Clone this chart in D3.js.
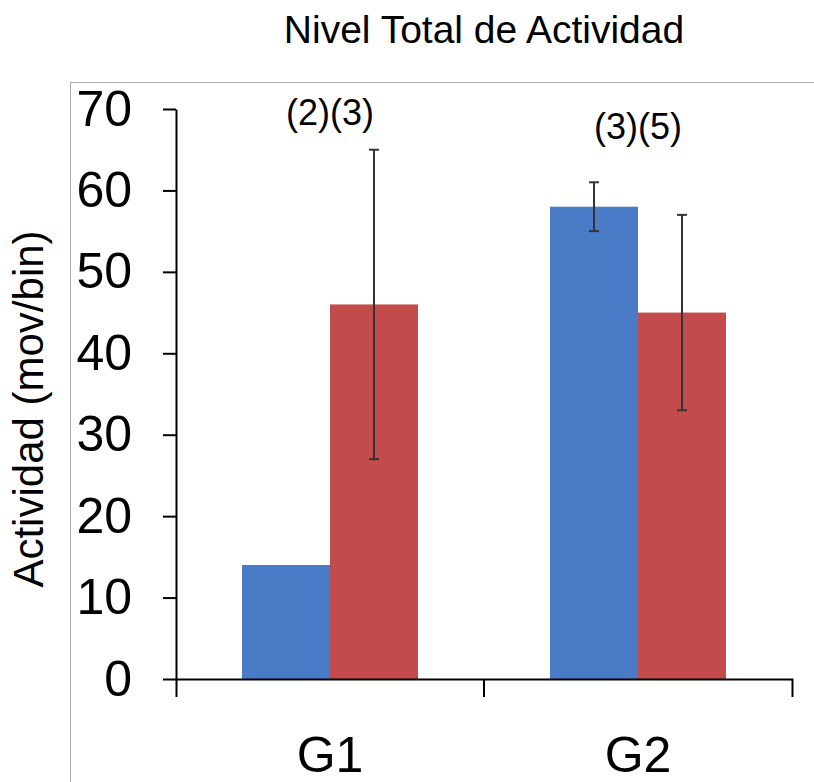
<!DOCTYPE html>
<html>
<head>
<meta charset="utf-8">
<script src="https://cdn.jsdelivr.net/npm/d3@7"></script>
<style>
  body { margin: 0; background: #fff; }
  text { font-family: "Liberation Sans", Arial, sans-serif; fill: #000; }
</style>
</head>
<body>
<div id="chart"></div>
<script>
/** data **/
const groups = ["G1", "G2"];
const seriesNames = ["azul", "rojo"];
const blueValues = [14, 58];
const redValues = [46, 45];
const blueErrors = [0, 3];
const redErrors = [19, 12];
const groupNotes = ["(2)(3)", "(3)(5)"];
const yTicks = [0, 10, 20, 30, 40, 50, 60, 70];

const width = 814;
const height = 782;
const colors = { azul: "#4a7bc6", rojo: "#c44b4b" };

const svg = d3.select("#chart")
    .append("svg")
    .attr("width", width)
    .attr("height", height);

// light frame around the plot
svg.append("path")
    .attr("d", `M70.5,${height} L70.5,82.5 L${width},82.5`)
    .attr("fill", "none")
    .attr("stroke", "#aaa")
    .attr("stroke-width", 1);

const y = d3.scaleLinear().domain([0, 70]).range([679, 109]);

const x0 = d3.scaleBand()
    .domain(groups)
    .range([176, 792])
    .paddingInner(0.4286)
    .paddingOuter(0.2143);

const x1 = d3.scaleBand()
    .domain(seriesNames)
    .range([0, x0.bandwidth()]);

// rows for bars
const rows = [];
groups.forEach((g, i) => {
    rows.push({ group: g, series: "azul", value: blueValues[i], err: blueErrors[i] });
    rows.push({ group: g, series: "rojo", value: redValues[i], err: redErrors[i] });
});

svg.append("g")
    .selectAll("rect")
    .data(rows)
    .join("rect")
    .attr("x", d => x0(d.group) + x1(d.series))
    .attr("y", d => y(d.value))
    .attr("width", x1.bandwidth())
    .attr("height", d => y(0) - y(d.value))
    .attr("fill", d => colors[d.series]);

// error bars
const errRows = rows.filter(d => d.err > 0);
const eb = svg.append("g")
    .attr("stroke", "#333")
    .attr("stroke-width", 2);

const cx = d => x0(d.group) + x1(d.series) + x1.bandwidth() / 2;

eb.selectAll("line.v")
    .data(errRows)
    .join("line")
    .attr("class", "v")
    .attr("x1", cx).attr("x2", cx)
    .attr("y1", d => y(d.value - d.err))
    .attr("y2", d => y(d.value + d.err));

eb.selectAll("line.top")
    .data(errRows)
    .join("line")
    .attr("class", "top")
    .attr("x1", d => cx(d) - 5).attr("x2", d => cx(d) + 5)
    .attr("y1", d => y(d.value + d.err))
    .attr("y2", d => y(d.value + d.err));

eb.selectAll("line.bot")
    .data(errRows)
    .join("line")
    .attr("class", "bot")
    .attr("x1", d => cx(d) - 5).attr("x2", d => cx(d) + 5)
    .attr("y1", d => y(d.value - d.err))
    .attr("y2", d => y(d.value - d.err));

// y axis
const yAxis = svg.append("g")
    .attr("transform", "translate(176,0)")
    .call(d3.axisLeft(y).tickValues(yTicks).tickSizeInner(13).tickSizeOuter(0).tickPadding(31));
yAxis.selectAll("path, line").attr("stroke", "#000").attr("stroke-width", 2);
yAxis.selectAll("text")
    .attr("font-size", 50)
    .attr("font-family", "Liberation Sans, Arial, sans-serif");

// x axis: end ticks come from the outer tick size
const xAxis = svg.append("g")
    .attr("transform", `translate(0,${y(0)})`)
    .call(d3.axisBottom(x0).tickSizeInner(0).tickSizeOuter(18).tickPadding(57));
xAxis.selectAll("path, line").attr("stroke", "#000").attr("stroke-width", 2);
xAxis.selectAll("text")
    .attr("font-size", 50)
    .attr("font-family", "Liberation Sans, Arial, sans-serif");

// middle boundary tick between groups
const midX = (x0(groups[0]) + x0.bandwidth() + x0(groups[1])) / 2;
svg.append("line")
    .attr("x1", midX).attr("x2", midX)
    .attr("y1", y(0)).attr("y2", y(0) + 18)
    .attr("stroke", "#000")
    .attr("stroke-width", 2);

// group notes above the bars
const noteY = [68, 66.3];
svg.append("g")
    .selectAll("text")
    .data(groupNotes)
    .join("text")
    .attr("x", (d, i) => x0(groups[i]) + x0.bandwidth() / 2)
    .attr("y", (d, i) => y(noteY[i]))
    .attr("text-anchor", "middle")
    .attr("font-size", 36)
    .text(d => d);

// title
svg.append("text")
    .attr("x", 484)
    .attr("y", 43)
    .attr("text-anchor", "middle")
    .attr("font-size", 39)
    .text("Nivel Total de Actividad");

// y axis label
svg.append("text")
    .attr("transform", "translate(43,409) rotate(-90)")
    .attr("text-anchor", "middle")
    .attr("font-size", 42)
    .text("Actividad (mov/bin)");
</script>
</body>
</html>
